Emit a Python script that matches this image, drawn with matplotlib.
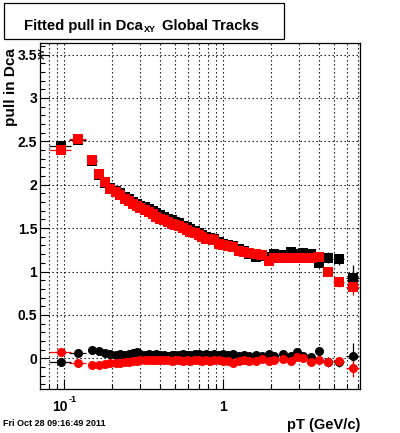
import matplotlib
matplotlib.use("Agg")
import matplotlib.pyplot as plt
import matplotlib.transforms as mtransforms
from matplotlib.patches import Rectangle
from matplotlib.ticker import FixedLocator, NullFormatter

plt.rcParams['font.family'] = ['Liberation Sans', 'DejaVu Sans']
plt.rcParams['font.weight'] = 'bold'

# pT bin centres and half widths (GeV/c)
pt = [0.095, 0.122, 0.150, 0.166, 0.181, 0.195, 0.21, 0.225, 0.24, 0.255,
      0.27, 0.285, 0.30, 0.32, 0.34, 0.36, 0.38, 0.40, 0.425, 0.45,
      0.475, 0.50, 0.53, 0.56, 0.59, 0.62, 0.66, 0.70, 0.74, 0.78,
      0.83, 0.88, 0.94, 1.00, 1.07, 1.15, 1.25, 1.35, 1.45, 1.60,
      1.75, 1.95, 2.10, 2.37, 2.66, 2.90, 3.17, 3.55, 4.00, 4.55,
      5.34, 6.54]
pt_err = [0.015, 0.015, 0.010, 0.007, 0.007, 0.007, 0.0075, 0.0075, 0.0075, 0.0075,
          0.0075, 0.0075, 0.01, 0.01, 0.01, 0.01, 0.01, 0.01, 0.0125, 0.0125,
          0.0125, 0.0125, 0.015, 0.015, 0.015, 0.015, 0.02, 0.02, 0.02, 0.02,
          0.025, 0.025, 0.03, 0.03, 0.035, 0.04, 0.05, 0.05, 0.05, 0.075,
          0.075, 0.1, 0.1, 0.13, 0.13, 0.13, 0.15, 0.2, 0.22, 0.3,
          0.4, 0.6]

# black set: pull width (squares) and pull mean (circles)
black_width = [2.45, 2.52, 2.27, 2.11, 2.02, 1.96, 1.93, 1.90, 1.86, 1.83,
               1.80, 1.78, 1.76, 1.74, 1.72, 1.70, 1.67, 1.65, 1.63, 1.61,
               1.59, 1.57, 1.56, 1.53, 1.51, 1.49, 1.47, 1.44, 1.42, 1.40,
               1.39, 1.37, 1.34, 1.32, 1.30, 1.29, 1.26, 1.24, 1.20, 1.17,
               1.18, 1.17, 1.20, 1.19, 1.23, 1.20, 1.21, 1.20, 1.10, 1.16,
               1.14, 0.93]
black_mean = [-0.045, 0.06, 0.10, 0.08, 0.06, 0.05, 0.04, 0.05, 0.04, 0.05,
              0.06, 0.07, 0.05, 0.04, 0.05, 0.04, 0.05, 0.04, 0.04, 0.03,
              0.04, 0.04, 0.04, 0.05, 0.04, 0.04, 0.05, 0.05, 0.04, 0.05,
              0.04, 0.05, 0.04, 0.05, 0.04, 0.05, 0.03, 0.04, 0.03, 0.04,
              0.03, 0.045, 0.03, 0.045, 0.03, 0.075, 0.03, 0.02, 0.085, -0.04,
              -0.04, 0.025]
black_err = [0.02, 0.015, 0.015, 0.01, 0.01, 0.01, 0.01, 0.01, 0.01, 0.01,
             0.01, 0.01, 0.01, 0.01, 0.01, 0.01, 0.01, 0.01, 0.01, 0.01,
             0.01, 0.01, 0.01, 0.01, 0.01, 0.01, 0.01, 0.01, 0.01, 0.01,
             0.01, 0.01, 0.01, 0.01, 0.015, 0.015, 0.015, 0.015, 0.015, 0.02,
             0.02, 0.02, 0.025, 0.025, 0.03, 0.03, 0.035, 0.04, 0.05, 0.06,
             0.06, 0.15]

# red set
red_width = [2.40, 2.53, 2.29, 2.12, 2.03, 1.95, 1.92, 1.88, 1.84, 1.81,
             1.78, 1.75, 1.73, 1.71, 1.69, 1.66, 1.63, 1.61, 1.59, 1.57,
             1.55, 1.54, 1.53, 1.50, 1.48, 1.46, 1.44, 1.42, 1.40, 1.38,
             1.37, 1.36, 1.32, 1.30, 1.29, 1.28, 1.24, 1.23, 1.21, 1.20,
             1.19, 1.12, 1.15, 1.15, 1.15, 1.16, 1.15, 1.16, 1.17, 1.00,
             0.875, 0.825]
red_mean = [0.07, -0.06, -0.08, -0.075, -0.065, -0.06, -0.05, -0.05, -0.045, -0.04,
            -0.035, -0.03, -0.02, -0.015, -0.025, -0.015, -0.025, -0.015, -0.025, -0.015,
            -0.03, -0.02, -0.015, -0.03, -0.02, -0.03, -0.015, -0.02, -0.03, -0.02,
            -0.03, -0.015, -0.02, -0.03, -0.035, -0.055, -0.03, -0.02, -0.035, -0.03,
            -0.01, -0.03, -0.02, -0.01, -0.03, 0.02, 0.0, -0.045, -0.025, -0.04,
            -0.035, -0.11]
red_err = [0.02, 0.015, 0.015, 0.01, 0.01, 0.01, 0.01, 0.01, 0.01, 0.01,
           0.01, 0.01, 0.01, 0.01, 0.01, 0.01, 0.01, 0.01, 0.01, 0.01,
           0.01, 0.01, 0.01, 0.01, 0.01, 0.01, 0.01, 0.01, 0.01, 0.01,
           0.01, 0.01, 0.01, 0.01, 0.015, 0.015, 0.015, 0.015, 0.015, 0.02,
           0.02, 0.02, 0.025, 0.025, 0.03, 0.03, 0.035, 0.04, 0.04, 0.05,
           0.05, 0.1]

y_major = [0, 0.5, 1, 1.5, 2, 2.5, 3, 3.5]
x_major = [0.1, 1]
x_minor = [0.08, 0.09, 0.2, 0.3, 0.4, 0.5, 0.6, 0.7, 0.8, 0.9, 2, 3, 4, 5, 6, 7]

fig = plt.figure(figsize=(4.0, 4.33), dpi=100)
ax = fig.add_axes([0.1, 0.101, 0.801, 0.799])

for width, mean, err, col in [(black_width, black_mean, black_err, 'black'),
                              (red_width, red_mean, red_err, '#ff0000')]:
    ax.errorbar(pt, width, xerr=pt_err, yerr=err, fmt='s', ms=7.2, mfc=col, mec=col,
                mew=0, ecolor=col, elinewidth=0.9, capsize=0, zorder=3)
    ax.errorbar(pt, mean, xerr=pt_err, yerr=err, fmt='o', ms=6.5, mfc=col, mec=col,
                mew=0, ecolor=col, elinewidth=0.9, capsize=0, zorder=3)

ax.set_xscale('log')
ax.set_xlim(0.0703, 7.3)
ax.set_ylim(-0.357, 3.63)

ax.xaxis.set_major_locator(FixedLocator(x_major))
ax.xaxis.set_minor_locator(FixedLocator(x_minor))
ax.xaxis.set_major_formatter(NullFormatter())
ax.xaxis.set_minor_formatter(NullFormatter())
ax.yaxis.set_major_locator(FixedLocator(y_major))
ax.yaxis.set_minor_locator(plt.MultipleLocator(0.1))
ax.set_yticklabels(['0', '0.5', '1', '1.5', '2', '2.5', '3', '3.5'])

ax.tick_params(axis='both', which='both', direction='in', top=False, right=False)
ax.tick_params(axis='y', which='major', length=6.5, width=0.8, labelsize=10, pad=2)
ax.tick_params(axis='y', which='minor', length=3.3, width=0.8)
ax.tick_params(axis='x', which='major', length=7, width=0.8)
ax.tick_params(axis='x', which='minor', length=3.5, width=0.8)

grid_style = dict(color='black', linestyle=(0, (1.2, 2.4)), linewidth=0.8)
ax.grid(True, which='both', axis='x', **grid_style)
ax.grid(True, which='major', axis='y', **grid_style)
ax.set_axisbelow(True)
for sp in ax.spines.values():
    sp.set_linewidth(0.9)

# x tick labels in ROOT style
xlab_tr = ax.get_xaxis_transform()
ax.text(0.1, -0.05, '10', transform=mtransforms.offset_copy(xlab_tr, fig=fig, x=-4, y=0, units='dots'),
        ha='center', va='center', fontsize=10)
ax.text(0.1, -0.031, '-1', transform=mtransforms.offset_copy(xlab_tr, fig=fig, x=8, y=0, units='dots'),
        ha='center', va='center', fontsize=6.5)
ax.text(1, -0.05, '1', transform=xlab_tr, ha='center', va='center', fontsize=10)

# axis titles
fig.text(0.9, (433 - 425) / 433, 'pT (GeV/c)', ha='right', va='center', fontsize=10.5)
fig.text(0.027, (433 - 48) / 433, 'pull in Dca', rotation=90, ha='center', va='top', fontsize=11)
fig.text(0.106, (433 - 53) / 433, 'XY', rotation=90, ha='center', va='center', fontsize=6.5)

# title box
fig.add_artist(Rectangle((0.01, (433 - 39) / 433), 0.70, 36 / 433, transform=fig.transFigure,
                         facecolor='white', edgecolor='black', linewidth=0.9))
fig.text(143 / 400, (433 - 30) / 433, 'Fitted pull in Dca', ha='right', va='baseline', fontsize=10.7)
fig.text(150 / 400, (433 - 29) / 433, 'XY', ha='center', va='center', fontsize=6.5)
fig.text(162 / 400, (433 - 30) / 433, 'Global Tracks', ha='left', va='baseline', fontsize=10.7)

# date stamp
fig.text(3 / 400, (433 - 424) / 433, 'Fri Oct 28 09:16:49 2011', ha='left', va='center', fontsize=6.5)

fig.savefig('out.png', dpi=100)
